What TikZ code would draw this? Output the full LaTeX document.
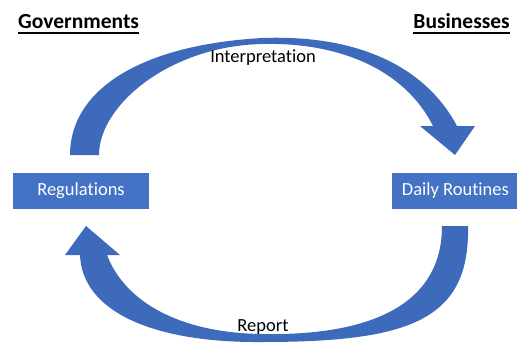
\documentclass[tikz,border=0pt]{standalone}
\usepackage{fontspec}
\setmainfont{Carlito}[Ligatures=NoCommon]
\usetikzlibrary{positioning}
\definecolor{boxblue}{RGB}{68,114,196}
\definecolor{arrowblue}{RGB}{62,106,188}

\begin{document}
\begin{tikzpicture}[x=1pt,y=-1pt,
  box/.style={rectangle,fill=boxblue,text=white,minimum height=36pt,inner sep=0pt,
    font=\fontsize{18.5}{22}\selectfont},
  title/.style={inner sep=0pt,font=\bfseries\fontsize{21.5}{26}\selectfont},
  flowtext/.style={inner sep=0pt,font=\fontsize{18.5}{22}\selectfont},
  underline/.style={line width=1.6pt},
  block/.style={fill=arrowblue,draw=none}]

  \useasboundingbox (0,0) rectangle (517,343);

  % the two sides
  \node[box,minimum width=136pt] (reg) at (81,191) {Regulations};
  \node[box,minimum width=126pt] (daily) [right=243pt of reg] {Daily Routines};

  % Interpretation arrow, governments -> businesses
  \coordinate (i1) at (70,155);
  \coordinate (i2) at (99,155);
  \fill[block] (i1) .. controls (70,90) and (140,45) .. (262,38)
    .. controls (370,34) and (430,75) .. (457,126)
    -- (475,126) -- (455,155) -- (420,126) -- (433,126)
    .. controls (405,70) and (340,42) .. (262,44)
    .. controls (170,46) and (99,105) .. (i2) -- cycle;

  % Report arrow, businesses -> governments
  \coordinate (r1) at (468,226);
  \coordinate (r2) at (442,226);
  \fill[block] (r1) .. controls (470,320) and (410,342) .. (262,342)
    .. controls (150,343) and (82,310) .. (80,255)
    -- (65,255) -- (86,226) -- (120,255) -- (107,255)
    .. controls (125,302) and (180,333) .. (262,334)
    .. controls (370,336) and (442,305) .. (r2) -- cycle;

  \node[title,anchor=base west] (gov) at (18,28) {Governments};
  \node[title,anchor=base east] (bus) at (510,28) {Businesses};
  \draw[underline] ([yshift=-5pt]gov.base west) -- ([yshift=-5pt]gov.base east);
  \draw[underline] ([yshift=-5pt]bus.base west) -- ([yshift=-5pt]bus.base east);

  \node[flowtext,anchor=base] (interp) at (263,62) {Interpretation};
  \node[flowtext,anchor=base] (rep) at (263,331) {Report};

\end{tikzpicture}
\end{document}
